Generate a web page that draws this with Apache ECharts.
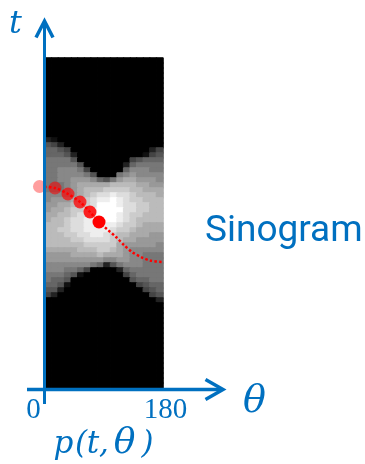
<!DOCTYPE html>
<html><head><meta charset="utf-8">
<script src="https://cdn.jsdelivr.net/npm/echarts@6/dist/echarts.min.js"></script>
<style>html,body{margin:0;padding:0;background:#fff}#c{width:365px;height:464px}</style>
</head><body><div id="c"></div>
<script>
// ---- data ----
// projection angle bins (degrees, bin centres)
const thetaBins = ['5','15','25','35','45','55','65','75','85','95','105','115','125','135','145','155','165','175'];
// sinogram intensity, one string per detector row (top to bottom), one hex digit (0-15) per angle bin
const sinogramRows = [
'000000000000000000','000000000000000000','000000000000000000','000000000000000000','000000000000000000',
'000000000000000000','000000000000000000','000000000000000000','000000000000000000','000000000000000000',
'000000000000000000','000000000000000000','000000000000000000','000000000000000000','000000000000000000',
'000000000000000000',
'210000000000000000',
'542000000000000000',
'665400000000000024',
'666520000000000145',
'777750000000045666',
'777775000000267777',
'778887400000688877',
'778888750007898888',
'778899986579aa9998',
'77789aaaaabbbbaa99',
'77789abbbccccbbaaa',
'88889abcddeddcbbba',
'8999abcdeefedccbbb',
'99aabbcdfffeddccbb',
'9aabccdeffffddccbb',
'aabbcddefffedccbbb',
'abbcddeeeffedcbbbb',
'bbbcddeeeeedccbaaa',
'bbccddeeeedccbaaaa',
'bbbccddeedcbbaaa99',
'bbbbccddddcbaa9999',
'bbbbbbccccca999998',
'aaaaabbbccba988888',
'9999aaaabaaa988777',
'999999999889988777',
'888888876257888777',
'888776400002677777',
'777651000000467777',
'766500000000056677',
'665100000000004566',
'552000000000000456',
'420000000000000045',
'000000000000000002',
'000000000000000000',
'000000000000000000',
'000000000000000000','000000000000000000','000000000000000000','000000000000000000','000000000000000000',
'000000000000000000','000000000000000000','000000000000000000','000000000000000000','000000000000000000',
'000000000000000000','000000000000000000','000000000000000000','000000000000000000','000000000000000000'
];
// highlighted points on the sinusoid (theta in degrees, t in detector units)
const dotTheta = [-8.4, 15.3, 35.1, 53.4, 68.6, 82.4];
const dotT = [36.5, 35, 29, 21, 11, 1];
// dotted sinusoid trace
const curveTheta = [-8.4, 15.3, 35.1, 53.4, 68.6, 82.4, 96.1, 108.3, 120.5, 132.7, 146.4, 160.2, 180];
const curveT = [36.5, 35, 29, 21, 11, 1, -7, -14, -22, -29, -34, -37.5, -39];
const tickLabels = ['0', '180'];
const axisNames = ['t', 'θ'];
const sideLabel = 'Sinogram';
const formulaParts = ['p', '(', 't', ',', 'θ', ')'];

// ---- build ----
const tBins = sinogramRows.map((_, r) => String(r));
const heatData = [];
sinogramRows.forEach((row, r) => {
  for (let i = 0; i < row.length; i++) {
    const v = parseInt(row[i], 16);
    const g = Math.round(v / 15 * 255);
    const c = 'rgb(' + g + ',' + g + ',' + g + ')';
    heatData.push({ value: [i, r, v], itemStyle: { color: c, borderColor: c, borderWidth: 1 } });
  }
});
const dotAlpha = [0.38, 0.55, 0.65, 0.75, 0.86, 1];
const dots = dotTheta.map((th, k) => ({ value: [th, dotT[k]], itemStyle: { opacity: dotAlpha[k] } }));
const curve = curveTheta.map((th, k) => [th, curveT[k]]);

const BLUE = '#0070C0';
function txt(text, x, y, font, align) {
  return { type: 'text', z: 100, style: { text: text, x: x, y: y, font: font, fill: BLUE,
    align: align || 'center', textAlign: align || 'center', verticalAlign: 'middle', textVerticalAlign: 'middle' } };
}
const mathFont = 'italic 31px "DejaVu Serif"';
const formulaFonts = [mathFont, mathFont, mathFont, mathFont, 'italic 36px "DejaVu Serif"', mathFont];
const formulaX = [63.5, 81, 93, 104, 124.5, 147.5];
const formulaY = [445, 445, 445, 445, 443.5, 445];

const chart = echarts.init(document.getElementById('c'), null, { renderer: 'canvas' });
chart.setOption({
  animation: false,
  grid: { left: 45, top: 58, width: 118, height: 330, show: false },
  xAxis: [
    { type: 'category', data: thetaBins, show: false },
    { type: 'value', min: 0, max: 180, show: false }
  ],
  yAxis: [
    { type: 'category', data: tBins, inverse: true, show: false },
    { type: 'value', min: -165, max: 165, show: false }
  ],
  visualMap: { show: false, type: 'continuous', min: 0, max: 15, dimension: 2, seriesIndex: 0,
    inRange: { color: ['#000000', '#ffffff'] } },
  series: [
    { type: 'heatmap', data: heatData, xAxisIndex: 0, yAxisIndex: 0,
      emphasis: { disabled: true }, progressive: 0 },
    { type: 'line', data: curve, xAxisIndex: 1, yAxisIndex: 1, symbol: 'none', smooth: 0.3, clip: false, z: 3,
      lineStyle: { color: '#ff0000', width: 2.5, type: [2.5, 2.2] } },
    { type: 'scatter', data: dots, xAxisIndex: 1, yAxisIndex: 1, symbolSize: 13, clip: false, z: 4,
      itemStyle: { color: '#ff0000' } }
  ],
  graphic: [
    { type: 'line', z: 100, shape: { x1: 44.5, y1: 404, x2: 44.5, y2: 22 }, style: { stroke: BLUE, lineWidth: 3 } },
    { type: 'polyline', z: 100, shape: { points: [[36, 37.5], [44.5, 21], [53, 37.5]] },
      style: { stroke: BLUE, lineWidth: 3.5, fill: null, lineJoin: 'miter' } },
    { type: 'line', z: 100, shape: { x1: 27, y1: 389.5, x2: 222, y2: 389.5 }, style: { stroke: BLUE, lineWidth: 3.5 } },
    { type: 'polyline', z: 100, shape: { points: [[205.5, 379.5], [223, 389.5], [205.5, 399.5]] },
      style: { stroke: BLUE, lineWidth: 3.5, fill: null, lineJoin: 'miter' } },
    txt(axisNames[0], 15.5, 24.4, 'italic 32px "DejaVu Serif"'),
    txt(axisNames[1], 254.5, 402.6, 'italic 38px "DejaVu Serif"'),
    txt(tickLabels[0], 33.5, 410.3, '29px "Liberation Serif"'),
    txt(tickLabels[1], 165.5, 410.3, '29px "Liberation Serif"'),
    txt(sideLabel, 205, 232, '37px Roboto', 'left')
  ].concat(formulaParts.map((p, k) => txt(p, formulaX[k], formulaY[k], formulaFonts[k])))
});
</script></body></html>
